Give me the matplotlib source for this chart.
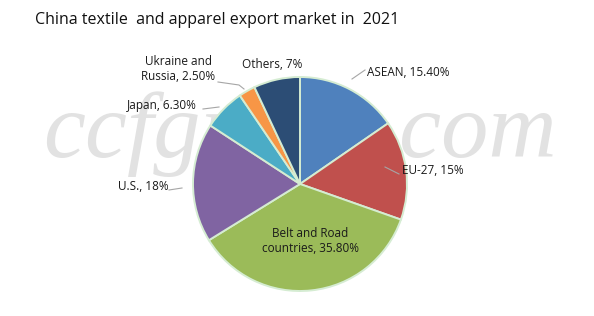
import matplotlib
matplotlib.use("Agg")
import matplotlib.pyplot as plt

labels = ["ASEAN", "EU-27", "Belt and Road\ncountries", "U.S.", "Japan", "Ukraine and\nRussia", "Others"]
values = [15.4, 15.0, 35.8, 18.0, 6.3, 2.5, 7.0]
value_text = ["15.40%", "15%", "35.80%", "18%", "6.30%", "2.50%", "7%"]
colors = ["#4f81bd", "#c0504d", "#9bbb59", "#8064a2", "#4bacc6", "#f79646", "#2c4d75"]

W, H = 594, 316
CX, CY, R = 300, 184, 107
plt.rcParams["font.family"] = ["Open Sans", "DejaVu Sans"]

fig = plt.figure(figsize=(W / 100, H / 100), dpi=100)
fig.patch.set_facecolor("white")

# watermark behind everything
fig.text(300 / W, 1 - 134 / H, "ccfgroup.com", fontsize=68, family="Liberation Serif",
         style="italic", color="#e2e2e2", ha="center", va="center", zorder=-5)

ax = fig.add_axes([(CX - R) / W, (H - CY - R) / H, 2 * R / W, 2 * R / H])
ax.patch.set_alpha(0)
wedges, _ = ax.pie(values, colors=colors, startangle=90, counterclock=False, radius=1,
                   wedgeprops=dict(edgecolor="#d5ecd2", linewidth=1.4))
ax.set_xlim(-1, 1); ax.set_ylim(-1, 1); ax.axis("off")

def px(x, y):
    return ((x - CX) / R, (CY - y) / R)

txt = dict(fontsize=8.5, color="#1a1a1a")
# (label index, text pos px, ha, va, leader line points px or None)
placements = [
    (0, (367, 72), "left", "center", [(352, 79), (365, 70)]),
    (1, (402, 171), "left", "center", [(385, 167), (399, 174)]),
    (2, (310, 241), "center", "center", None),
    (3, (118, 187), "left", "center", [(169, 190), (182, 188)]),
    (4, (127, 106), "left", "center", [(203, 109), (219, 107)]),
    (5, (178, 69), "center", "center", [(218, 82), (239, 85), (244, 89)]),
    (6, (242, 64), "left", "center", None),
]
for i, pos, ha, va, line in placements:
    s = f"{labels[i]}, {value_text[i]}"
    x, y = px(*pos)
    ax.text(x, y, s, ha=ha, va=va, multialignment="center", linespacing=1.2, **txt)
    if line:
        pts = [px(*p) for p in line]
        ax.plot([p[0] for p in pts], [p[1] for p in pts], color="#a6a6a6", lw=0.8,
                clip_on=False)

fig.text(35 / W, 1 - 20 / H, "China textile  and apparel export market in  2021",
         fontsize=11.5, color="#111111", ha="left", va="center")

fig.savefig("out.png", dpi=100)
